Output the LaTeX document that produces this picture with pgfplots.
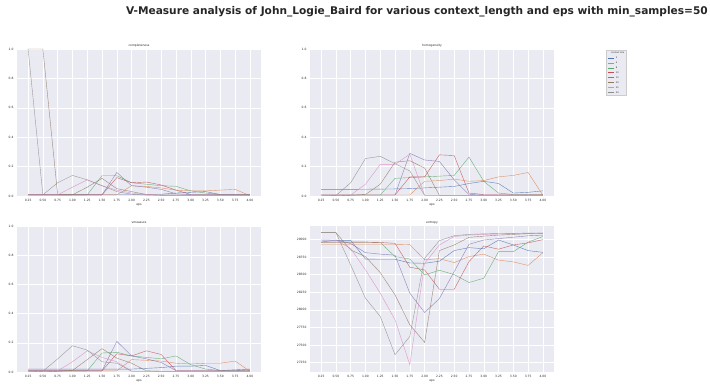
\documentclass[border=0pt]{standalone}
\usepackage{fontspec}
\setmainfont{DejaVu Sans}
\usepackage{pgfplots}
\usepackage{pgfplotstable}
\pgfplotsset{compat=1.18}

\definecolor{sbbg}{HTML}{EAEAF2}
\definecolor{sbtext}{HTML}{262626}
\definecolor{sbedge}{HTML}{CCCCCC}
\definecolor{cA}{HTML}{4C72B0}
\definecolor{cB}{HTML}{DD8452}
\definecolor{cC}{HTML}{55A868}
\definecolor{cD}{HTML}{C44E52}
\definecolor{cE}{HTML}{8172B3}
\definecolor{cF}{HTML}{937860}
\definecolor{cG}{HTML}{DA8BC3}
\definecolor{cH}{HTML}{8C8C8C}

\pgfplotstableread{
eps  c2    c4    c8    c10   c15   c20   c25   c30
0.25 0.012 0.008 0.008 0.008 0.008 1.0   0.008 1.0
0.50 0.012 0.008 0.008 0.008 0.008 1.0   0.008 0.008
0.75 0.012 0.008 0.008 0.008 0.008 0.008 0.008 0.09
1.00 0.012 0.008 0.008 0.008 0.008 0.008 0.06  0.14
1.25 0.012 0.008 0.008 0.008 0.008 0.06  0.11  0.11
1.50 0.012 0.008 0.138 0.008 0.008 0.12  0.07  0.07
1.75 0.012 0.008 0.138 0.125 0.16  0.05  0.04  0.03
2.00 0.012 0.07  0.09  0.09  0.07  0.03  0.02  0.012
2.25 0.012 0.065 0.08  0.095 0.06  0.01  0.01  0.006
2.50 0.012 0.055 0.07  0.075 0.045 0.006 0.006 0.006
2.75 0.02  0.04  0.066 0.04  0.015 0.006 0.006 0.006
3.00 0.025 0.035 0.035 0.01  0.01  0.006 0.006 0.006
3.25 0.03  0.035 0.02  0.01  0.01  0.006 0.006 0.006
3.50 0.01  0.04  0.01  0.01  0.01  0.006 0.006 0.006
3.75 0.01  0.045 0.01  0.01  0.01  0.006 0.006 0.006
4.00 0.01  0.003 0.01  0.01  0.01  0.006 0.006 0.006
}\comp

\pgfplotstableread{
eps  c2    c4    c8    c10   c15   c20   c25   c30
0.25 0.045 0.007 0.007 0.007 0.007 0.0   0.007 0.0
0.50 0.045 0.007 0.007 0.007 0.007 0.0   0.007 0.003
0.75 0.045 0.007 0.007 0.007 0.007 0.005 0.007 0.09
1.00 0.046 0.007 0.007 0.007 0.007 0.01  0.08  0.255
1.25 0.047 0.007 0.007 0.007 0.007 0.08  0.215 0.27
1.50 0.048 0.007 0.12  0.007 0.007 0.23  0.215 0.22
1.75 0.05  0.007 0.125 0.13  0.29  0.24  0.285 0.17
2.00 0.055 0.10  0.13  0.13  0.245 0.19  0.005 0.005
2.25 0.06  0.105 0.135 0.28  0.235 0.005 0.005 0.005
2.50 0.065 0.115 0.14  0.275 0.11  0.005 0.005 0.005
2.75 0.085 0.10  0.265 0.02  0.01  0.005 0.005 0.005
3.00 0.10  0.105 0.10  0.01  0.007 0.005 0.005 0.005
3.25 0.085 0.13  0.02  0.01  0.007 0.005 0.005 0.005
3.50 0.02  0.14  0.01  0.01  0.007 0.005 0.005 0.005
3.75 0.025 0.16  0.01  0.01  0.007 0.005 0.005 0.005
4.00 0.035 0.005 0.01  0.01  0.007 0.005 0.005 0.005
}\homo

\pgfplotstableread{
eps  c2    c4    c8    c10   c15   c20   c25   c30
0.25 0.02  0.008 0.008 0.008 0.008 0.0   0.008 0.0
0.50 0.02  0.008 0.008 0.008 0.008 0.0   0.008 0.005
0.75 0.02  0.008 0.008 0.008 0.008 0.005 0.008 0.09
1.00 0.02  0.008 0.008 0.008 0.008 0.01  0.07  0.18
1.25 0.02  0.008 0.008 0.008 0.008 0.085 0.145 0.15
1.50 0.02  0.008 0.13  0.008 0.008 0.16  0.10  0.07
1.75 0.02  0.008 0.135 0.125 0.21  0.095 0.07  0.06
2.00 0.02  0.085 0.11  0.11  0.11  0.06  0.005 0.005
2.25 0.025 0.08  0.10  0.145 0.09  0.008 0.005 0.005
2.50 0.03  0.075 0.09  0.12  0.065 0.005 0.005 0.005
2.75 0.04  0.06  0.11  0.01  0.01  0.005 0.005 0.005
3.00 0.04  0.055 0.05  0.01  0.01  0.005 0.005 0.005
3.25 0.045 0.06  0.02  0.01  0.01  0.005 0.005 0.005
3.50 0.01  0.06  0.01  0.01  0.01  0.005 0.005 0.005
3.75 0.015 0.075 0.01  0.01  0.01  0.005 0.005 0.005
4.00 0.02  0.005 0.01  0.01  0.015 0.005 0.005 0.005
}\vmea

\pgfplotstableread{
eps  c2    c4    c8    c10   c15   c20   c25   c30
0.25 28990 28930 28960 28960 28960 29095 28990 29095
0.50 28986 28930 28960 28960 28990 29095 28990 29095
0.75 28986 28930 28960 28960 28940 28849 28870 28637
1.00 28720 28930 28960 28960 28811 28755 28566 28165
1.25 28717 28930 28955 28955 28790 28528 28236 27906
1.50 28717 28930 28755 28943 28775 28212 27858 27363
1.75 28665 28925 28720 28604 28236 27788 27222 27622
2.00 28660 28710 28495 28566 27962 27538 28660 28731
2.25 28690 28725 28561 28292 28160 28840 28920 28981
2.50 28840 28670 28500 28292 28542 28920 29040 29052
2.75 28882 28755 28387 28684 28929 29028 29060 29070
3.00 28866 28790 28448 28906 28990 29045 29070 29078
3.25 28990 28705 28825 28860 29010 29060 29075 29082
3.50 28920 28680 28825 28920 29030 29070 29080 29085
3.75 28840 28630 28960 28950 29050 29080 29085 29088
4.00 28815 28810 29040 28995 29060 29085 29088 29090
}\entr

\newcommand{\tinyf}{\fontsize{3}{3.6}\selectfont}
\pgfplotsset{
  sb/.style={
    scale only axis, width=244pt, height=147pt,
    anchor=south west,
    axis background/.style={fill=sbbg},
    axis line style={draw=none},
    grid=major, major grid style={white, line width=0.5pt},
    major tick length=0pt,
    xmin=0.0625, xmax=4.1875,
    xtick={0.25,0.5,0.75,1,1.25,1.5,1.75,2,2.25,2.5,2.75,3,3.25,3.5,3.75,4},
    /pgf/number format/assume math mode=true,
    ticklabel style={font=\tinyf, text=sbtext},
    x tick label style={/pgf/number format/fixed, /pgf/number format/fixed zerofill, /pgf/number format/precision=2},
    scaled ticks=false,
    xlabel={eps},
    xlabel style={font=\tinyf, text=sbtext, yshift=4.5pt},
    title style={font=\tinyf, text=sbtext, at={(0.5,1)}, anchor=south, inner sep=0pt, yshift=-4pt},
    every axis plot/.append style={line width=0.4pt, no marks, opacity=0.85},
  },
  unit/.style={ymin=0, ymax=1, ytick={0,0.2,0.4,0.6,0.8,1},
    y tick label style={/pgf/number format/fixed, /pgf/number format/fixed zerofill, /pgf/number format/precision=1}},
}
\newcommand{\allplots}[1]{%
  \addplot[cA] table[x=eps,y=c2]{#1};
  \addplot[cB] table[x=eps,y=c4]{#1};
  \addplot[cC] table[x=eps,y=c8]{#1};
  \addplot[cD] table[x=eps,y=c10]{#1};
  \addplot[cE] table[x=eps,y=c15]{#1};
  \addplot[cF] table[x=eps,y=c20]{#1};
  \addplot[cG] table[x=eps,y=c25]{#1};
  \addplot[cH] table[x=eps,y=c30]{#1};
}

\begin{document}
\begin{tikzpicture}
\path[use as bounding box] (0,0) rectangle (710pt,385pt);

\begin{axis}[sb, unit, at={(17pt,189pt)}, title={completeness}]
\allplots{\comp}
\end{axis}

\begin{axis}[sb, unit, at={(310pt,189pt)}, title={homogeneity},
  legend style={at={(1.215,0.99)}, anchor=north west, draw=sbedge, fill=sbbg,
    font=\fontsize{2.2}{2.6}\selectfont, text=sbtext, inner xsep=1pt, inner ysep=1pt,
    nodes={inner sep=0.6pt, text depth=0.1pt}, row sep=2pt, line width=0.3pt,
    /tikz/every odd column/.append style={column sep=1pt}},
  legend cell align=left,
  legend image code/.code={\draw[#1, line width=0.7pt, opacity=1] (0pt,0pt) -- (6pt,0pt);}]
\addlegendimage{empty legend}
\allplots{\homo}
\legend{\hspace{-5pt}context size,2,4,8,10,15,20,25,30}
\end{axis}

\begin{axis}[sb, unit, at={(17pt,13pt)}, height=146pt, title={vmeasure}]
\allplots{\vmea}
\end{axis}

\begin{axis}[sb, at={(310pt,13pt)}, height=146pt, title={entropy},
  ymin=27118, ymax=29189,
  ytick={27250,27500,27750,28000,28250,28500,28750,29000},
  y tick label style={/pgf/number format/fixed, /pgf/number format/1000 sep={}}]
\allplots{\entr}
\end{axis}

\node[anchor=base east, font=\fontsize{10.6}{12}\selectfont\bfseries, text=sbtext, inner sep=0pt]
  at (708pt,370pt) {V-Measure analysis of John\_Logie\_Baird for various context\_length and eps with min\_samples=50};
\end{tikzpicture}
\end{document}
